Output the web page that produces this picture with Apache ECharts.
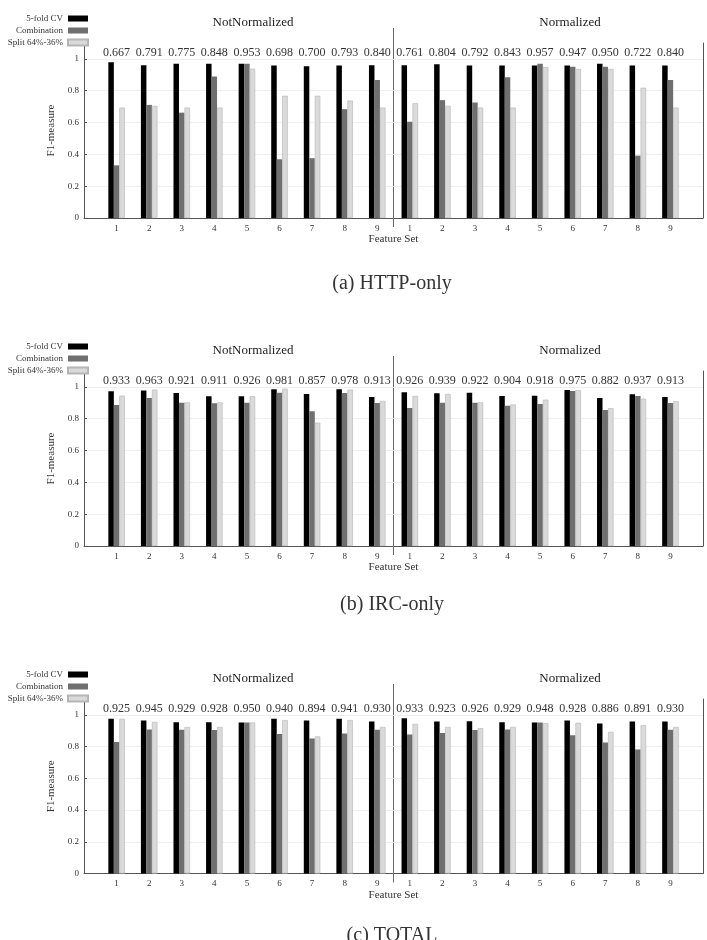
<!DOCTYPE html>
<html>
<head>
<meta charset="utf-8">
<script src="https://cdn.jsdelivr.net/npm/echarts@6/dist/echarts.min.js"></script>
<style>
  html, body { margin: 0; padding: 0; background: #fff; }
  #chart { width: 707px; height: 940px; }
</style>
</head>
<body>
<div id="chart"></div>
<script>
// feature sets 1..9, NotNormalized then Normalized
const featureSets = ["1", "2", "3", "4", "5", "6", "7", "8", "9"];
const seriesNames = ["5-fold CV", "Combination", "Split 64%-36%"];

// (a) HTTP-only
const httpCV = [0.979, 0.960, 0.970, 0.970, 0.970, 0.958, 0.954, 0.958, 0.960,
                0.960, 0.966, 0.958, 0.958, 0.958, 0.958, 0.970, 0.958, 0.958];
const httpComb = [0.331, 0.711, 0.662, 0.890, 0.970, 0.369, 0.376, 0.684, 0.867,
                  0.605, 0.741, 0.726, 0.884, 0.970, 0.951, 0.951, 0.392, 0.867];
const httpSplit = [0.694, 0.705, 0.694, 0.694, 0.939, 0.768, 0.768, 0.738, 0.694,
                   0.722, 0.705, 0.694, 0.694, 0.949, 0.937, 0.937, 0.819, 0.694];
const httpTop = ["0.667", "0.791", "0.775", "0.848", "0.953", "0.698", "0.700", "0.793", "0.840",
                 "0.761", "0.804", "0.792", "0.843", "0.957", "0.947", "0.950", "0.722", "0.840"];

// (b) IRC-only
const ircCV = [0.972, 0.977, 0.962, 0.941, 0.941, 0.985, 0.956, 0.985, 0.937,
               0.966, 0.960, 0.964, 0.943, 0.945, 0.981, 0.931, 0.954, 0.937];
const ircComb = [0.887, 0.931, 0.901, 0.897, 0.901, 0.964, 0.847, 0.962, 0.899,
                 0.868, 0.901, 0.901, 0.882, 0.893, 0.975, 0.855, 0.943, 0.899];
const ircSplit = [0.945, 0.983, 0.903, 0.903, 0.941, 0.989, 0.775, 0.983, 0.912,
                  0.943, 0.956, 0.903, 0.889, 0.920, 0.979, 0.866, 0.926, 0.910];
const ircTop = ["0.933", "0.963", "0.921", "0.911", "0.926", "0.981", "0.857", "0.978", "0.913",
                "0.926", "0.939", "0.922", "0.904", "0.918", "0.975", "0.882", "0.937", "0.913"];

// (c) TOTAL
const totCV = [0.975, 0.965, 0.954, 0.954, 0.952, 0.975, 0.965, 0.975, 0.958,
               0.979, 0.958, 0.960, 0.954, 0.952, 0.965, 0.946, 0.958, 0.958];
const totComb = [0.829, 0.908, 0.906, 0.904, 0.952, 0.880, 0.851, 0.882, 0.906,
                 0.876, 0.885, 0.904, 0.908, 0.952, 0.872, 0.826, 0.782, 0.906];
const totSplit = [0.975, 0.956, 0.924, 0.924, 0.952, 0.967, 0.864, 0.967, 0.924,
                  0.943, 0.924, 0.916, 0.924, 0.948, 0.950, 0.893, 0.935, 0.924];
const totTop = ["0.925", "0.945", "0.929", "0.928", "0.950", "0.940", "0.894", "0.941", "0.930",
                "0.933", "0.923", "0.926", "0.929", "0.948", "0.928", "0.886", "0.891", "0.930"];

const captions = ["(a) HTTP-only", "(b) IRC-only", "(c) TOTAL"];

const panels = [
  { cv: httpCV, comb: httpComb, split: httpSplit, top: httpTop, gridTop: 43, gridH: 175, caption: 284 },
  { cv: ircCV, comb: ircComb, split: ircSplit, top: ircTop, gridTop: 371, gridH: 175, caption: 605 },
  { cv: totCV, comb: totComb, split: totSplit, top: totTop, gridTop: 699, gridH: 174.5, caption: 936 }
];

const FONT = '"Liberation Serif", "DejaVu Serif", serif';
const LEFT = 84, WIDTH = 619;
const colors = ["#000000", "#6f6f6f", "#dadada"];

const chart = echarts.init(document.getElementById("chart"), null, { renderer: "canvas" });

// category slots 0..19, groups sit on 1..18
const pad = arr => ["-", ...arr, "-"];
const bottomCats = ["", ...featureSets, ...featureSets, ""];

const grid = [], xAxis = [], yAxis = [], series = [], legend = [], graphic = [];

panels.forEach((p, i) => {
  grid.push({ left: LEFT, width: WIDTH, top: p.gridTop, height: p.gridH });

  xAxis.push({
    type: "category", gridIndex: i, boundaryGap: false, data: bottomCats,
    axisLine: { lineStyle: { color: "#555", width: 1 } },
    axisTick: { show: false },
    axisLabel: { interval: 0, fontSize: 9, margin: 6, color: "#333", fontFamily: FONT },
    name: "Feature Set", nameLocation: "middle", nameGap: 14,
    nameTextStyle: { fontSize: 11, color: "#333", fontFamily: FONT }
  });
  // per-group scores written above the bars
  xAxis.push({
    type: "category", gridIndex: i, boundaryGap: false, position: "top",
    data: ["", ...p.top, ""],
    axisLine: { show: false }, axisTick: { show: false },
    axisLabel: { inside: true, interval: 0, margin: 4, fontSize: 12, color: "#333", fontFamily: FONT }
  });

  yAxis.push({
    type: "value", gridIndex: i, min: 0, max: 1.1, interval: 0.2,
    axisLine: { show: true, lineStyle: { color: "#555", width: 1 } },
    axisTick: { show: true, inside: true, length: 3, lineStyle: { color: "#555" } },
    axisLabel: { fontSize: 9, margin: 5, color: "#333", fontFamily: FONT, showMaxLabel: false },
    splitLine: { show: true, showMaxLine: false, lineStyle: { color: "#eeeeee", width: 1 } },
    name: "F1-measure", nameLocation: "middle", nameGap: 26,
    nameTextStyle: { fontSize: 11, color: "#333", fontFamily: FONT }
  });
  yAxis.push({
    type: "value", gridIndex: i, min: 0, max: 1.1, position: "right",
    axisLine: { show: true, lineStyle: { color: "#555", width: 1 } },
    axisTick: { show: false }, axisLabel: { show: false }, splitLine: { show: false }
  });

  [p.cv, p.comb, p.split].forEach((vals, k) => {
    series.push({
      name: seriesNames[k], type: "bar",
      xAxisIndex: 2 * i, yAxisIndex: 2 * i,
      barWidth: 5.5, barGap: "0%",
      itemStyle: k === 2
        ? { color: colors[k], borderColor: "#b5b5b5", borderWidth: 0.6 }
        : { color: colors[k] },
      emphasis: { disabled: true },
      data: pad(vals)
    });
  });

  legend.push({
    data: seriesNames, orient: "vertical", align: "right",
    right: 707 - 94, top: p.gridTop - 34,
    icon: "rect", itemWidth: 20, itemHeight: 6, itemGap: 3,
    selectedMode: false,
    textStyle: { fontSize: 9, color: "#333", fontFamily: FONT, lineHeight: 9 }
  });

  // section titles
  graphic.push({
    type: "text", x: 253, y: p.gridTop - 20,
    style: { text: "NotNormalized", align: "center", verticalAlign: "middle",
             font: "13px " + FONT, fill: "#222" }
  });
  graphic.push({
    type: "text", x: 570, y: p.gridTop - 20,
    style: { text: "Normalized", align: "center", verticalAlign: "middle",
             font: "13px " + FONT, fill: "#222" }
  });
  // separator between NotNormalized and Normalized
  const sepX = LEFT + WIDTH * 9.5 / 19;
  graphic.push({
    type: "line",
    shape: { x1: sepX, y1: p.gridTop - 15, x2: sepX, y2: p.gridTop + p.gridH + 9 },
    style: { stroke: "#666", lineWidth: 1 }
  });
  // caption
  graphic.push({
    type: "text", x: 392, y: p.caption,
    style: { text: captions[i], align: "center", verticalAlign: "middle",
             font: "20px " + FONT, fill: "#333" }
  });
});

chart.setOption({
  animation: false,
  textStyle: { fontFamily: FONT },
  grid, xAxis, yAxis, series, legend, graphic
});
</script>
</body>
</html>
